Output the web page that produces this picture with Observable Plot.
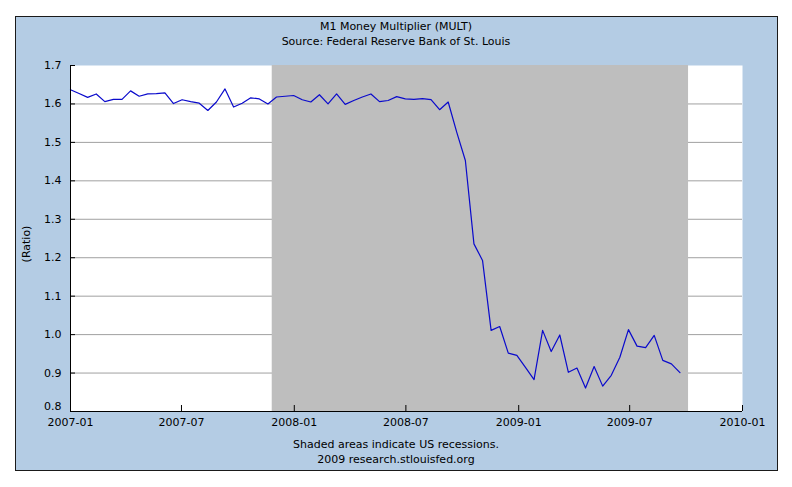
<!DOCTYPE html>
<html>
<head>
<meta charset="utf-8">
<script src="https://cdn.jsdelivr.net/npm/d3@7"></script>
<script src="https://cdn.jsdelivr.net/npm/@observablehq/plot@0.6"></script>
<style>
  html, body { margin: 0; padding: 0; background: #ffffff; }
  #page { position: relative; width: 792px; height: 487px; overflow: hidden; font-family: "DejaVu Sans", Verdana, sans-serif; }
  #panel { position: absolute; left: 15px; top: 16px; width: 761px; height: 453px; background: #b4cce4; border: 1px solid #1a1a1a; }
  .t { position: absolute; left: 0; width: 792px; text-align: center; font-size: 11px; color: #000; line-height: 14px; }
  #ylab { position: absolute; left: 26px; top: 244px; transform: translate(-50%, -50%) rotate(-90deg); font-size: 11px; white-space: nowrap; }
  #chart { position: absolute; left: 0; top: 0; }
</style>
</head>
<body>
<div id="page">
  <div id="panel"></div>
  <div class="t" style="top:20px">M1 Money Multiplier (MULT)</div>
  <div class="t" style="top:35px">Source: Federal Reserve Bank of St. Louis</div>
  <div id="ylab">(Ratio)</div>
  <div id="chart"></div>
  <div class="t" style="top:438px">Shaded areas indicate US recessions.</div>
  <div class="t" style="top:453px">2009 research.stlouisfed.org</div>
</div>
<script>
// Biweekly observation dates
const dates = [
  "2007-01-01","2007-01-15","2007-01-29","2007-02-12","2007-02-26","2007-03-12","2007-03-26","2007-04-09",
  "2007-04-23","2007-05-07","2007-05-21","2007-06-04","2007-06-18","2007-07-02","2007-07-16","2007-07-30",
  "2007-08-13","2007-08-27","2007-09-10","2007-09-24","2007-10-08","2007-10-22","2007-11-05","2007-11-19",
  "2007-12-03","2007-12-17","2007-12-31","2008-01-14","2008-01-28","2008-02-11","2008-02-25","2008-03-10",
  "2008-03-24","2008-04-07","2008-04-21","2008-05-05","2008-05-19","2008-06-02","2008-06-16","2008-06-30",
  "2008-07-14","2008-07-28","2008-08-11","2008-08-25","2008-09-08","2008-09-22","2008-10-06","2008-10-20",
  "2008-11-03","2008-11-17","2008-12-01","2008-12-15","2008-12-29","2009-01-12","2009-01-26","2009-02-09",
  "2009-02-23","2009-03-09","2009-03-23","2009-04-06","2009-04-20","2009-05-04","2009-05-18","2009-06-01",
  "2009-06-15","2009-06-29","2009-07-13","2009-07-27","2009-08-10","2009-08-24","2009-09-07","2009-09-21"
];
// M1 money multiplier (ratio)
const values = [
  1.637,1.627,1.617,1.626,1.606,1.612,1.612,1.634,
  1.620,1.626,1.627,1.629,1.601,1.611,1.606,1.602,
  1.583,1.605,1.639,1.592,1.602,1.616,1.613,1.600,
  1.618,1.620,1.622,1.611,1.605,1.624,1.600,1.626,
  1.599,1.609,1.618,1.626,1.606,1.609,1.619,1.613,
  1.612,1.614,1.611,1.585,1.605,1.526,1.453,1.236,
  1.193,1.011,1.021,0.952,0.946,0.915,0.883,1.011,
  0.956,0.999,0.902,0.913,0.861,0.917,0.866,0.894,
  0.941,1.013,0.970,0.966,0.998,0.933,0.924,0.901
];
// Recession shading
const recessionStart = ["2007-11-26"];
const recessionEnd = ["2009-10-05"];
// Axes
const xTickDates = ["2007-01-01","2007-07-01","2008-01-01","2008-07-01","2009-01-01","2009-07-01","2010-01-01"];
const xTickLabels = ["2007-01","2007-07","2008-01","2008-07","2009-01","2009-07","2010-01"];
const yTicks = [0.8,0.9,1.0,1.1,1.2,1.3,1.4,1.5,1.6,1.7];
const yGrid = [0.9,1.0,1.1,1.2,1.3,1.4,1.5,1.6];
const xDomain = ["2007-01-01","2010-01-01"];
const yDomain = [0.8,1.7];

const parse = d3.utcParse("%Y-%m-%d");
const data = dates.map((d, i) => ({date: parse(d), value: values[i]}));
const recessions = recessionStart.map((s, i) => ({start: parse(s), end: parse(recessionEnd[i])}));
const xt = xTickDates.map(parse);
const labelOf = new Map(xt.map((d, i) => [+d, xTickLabels[i]]));
const fmt = d3.format(".1f");

const chart = Plot.plot({
  width: 792,
  height: 487,
  marginLeft: 70,
  marginRight: 50,
  marginTop: 65,
  marginBottom: 76,
  style: {background: "transparent", fontFamily: "DejaVu Sans, Verdana, sans-serif", fontSize: "11px", color: "#000", overflow: "visible"},
  x: {type: "utc", domain: xDomain.map(parse), label: null},
  y: {domain: yDomain, label: null},
  marks: [
    Plot.frame({fill: "white", stroke: null}),
    Plot.ruleY(yGrid, {stroke: "#a0a0a0", strokeWidth: 1}),
    Plot.rect(recessions, {x1: "start", x2: "end", y1: () => yDomain[0], y2: () => yDomain[1], fill: "#bebebe"}),
    Plot.line(data, {x: "date", y: "value", stroke: "#0a0acc", strokeWidth: 1.2}),
    Plot.ruleY([yDomain[0]], {stroke: "#000", strokeWidth: 1}),
    Plot.ruleX([parse(xDomain[0])], {stroke: "#000", strokeWidth: 1}),
    Plot.axisY(yTicks, {anchor: "left", tickSize: 5, dx: 5, tickFormat: () => "", stroke: "#000", label: null}),
    Plot.axisY(yTicks.slice(1), {anchor: "left", tickSize: 0, tickPadding: 9, tickFormat: fmt, fill: "#000", label: null}),
    Plot.axisY(yTicks.slice(0, 1), {anchor: "left", tickSize: 0, tickPadding: 9, dy: -5, tickFormat: fmt, fill: "#000", label: null}),
    Plot.axisX(xt, {anchor: "bottom", tickSize: 6, dy: -6, tickFormat: () => "", stroke: "#000", label: null}),
    Plot.axisX(xt, {anchor: "bottom", tickSize: 0, tickPadding: 7, tickFormat: d => labelOf.get(+d), fill: "#000", label: null})
  ]
});
document.getElementById("chart").appendChild(chart);
</script>
</body>
</html>
